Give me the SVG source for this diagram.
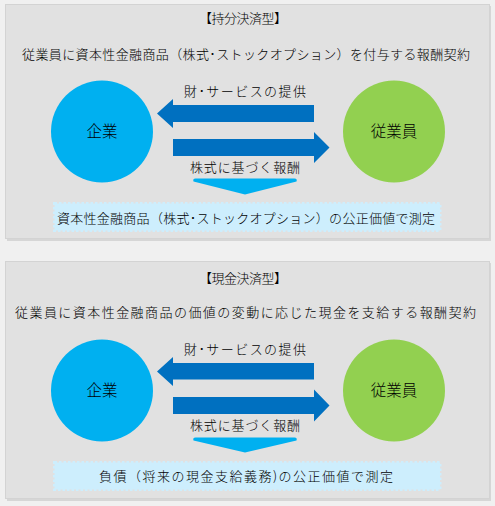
<svg xmlns="http://www.w3.org/2000/svg" width="495" height="506" viewBox="0 0 495 506">
<style>
text{font-family:"Noto Sans CJK JP","Noto Sans CJK SC",sans-serif;font-weight:300;fill:#000;text-anchor:middle}
.t{font-size:13px}
.n{font-size:15.5px}
.panel{fill:#e1e1e1;stroke:#d3d3d3;stroke-width:1}
.shadow{fill:#d6d6d6}
.c1{fill:#00b0f0}
.c2{fill:#92d050}
.arrow{fill:#0070c0}
.chev{fill:#00b0f0}
.box{fill:#cdeefd;stroke:#cdeefd;stroke-width:3;stroke-dasharray:2.5 2}
</style>
<rect x="0" y="0" width="495" height="506" fill="#f0f0f0"/>
<g id="panel1">
<rect class="shadow" x="7" y="6" width="484" height="235"/>
<rect class="panel" x="5.5" y="4.5" width="484" height="234"/>
<text class="t" x="243" y="23" textLength="88">【持分決済型】</text>
<text class="t" x="246" y="58.5" textLength="448">従業員に資本性金融商品（株式･ストックオプション）を付与する報酬契約</text>
</g>
<g id="panel2">
<rect class="shadow" x="7" y="263" width="484" height="238"/>
<rect class="panel" x="5.5" y="261.5" width="484" height="237"/>
<text class="t" x="243" y="283" textLength="88">【現金決済型】</text>
<text class="t" x="245.5" y="317" textLength="461">従業員に資本性金融商品の価値の変動に応じた現金を支給する報酬契約</text>
</g>
<g id="connectors">
<polygon class="arrow" points="157,113.5 173,99 173,105 314,105 314,122 173,122 173,128"/>
<polygon class="arrow" points="173,139 314,139 314,132 329.5,147.5 314,163 314,156 173,156"/>
<path class="chev" d="M195.5,178.5 L294.5,178.5 Q297.5,178.5 296.5,181.5 L245,194.5 L193.5,181.5 Q192.5,178.5 195.5,178.5 Z"/>
<polygon class="arrow" points="157,371.5 173,357 173,363 314,363 314,379.5 173,379.5 173,386"/>
<polygon class="arrow" points="173,397 314,397 314,389.5 329.5,405.5 314,421.5 314,414 173,414"/>
<path class="chev" d="M195.5,437.5 L294.5,437.5 Q297.5,437.5 296.5,440.5 L245,452.5 L193.5,440.5 Q192.5,437.5 195.5,437.5 Z"/>
<text class="t" x="245" y="95.5" textLength="122">財･サービスの提供</text>
<text class="t" x="245" y="171.5" textLength="110">株式に基づく報酬</text>
<text class="t" x="245" y="354" textLength="122">財･サービスの提供</text>
<text class="t" x="245" y="429.5" textLength="110">株式に基づく報酬</text>
</g>
<g id="company1">
<circle class="c1" cx="102" cy="131.5" r="51"/>
<text class="n" x="102" y="137">企業</text>
</g>
<g id="employee1">
<circle class="c2" cx="394" cy="131.5" r="51"/>
<text class="n" x="394" y="137">従業員</text>
</g>
<g id="measure1">
<rect class="box" x="54.5" y="203.5" width="385.5" height="27"/>
<text class="t" x="246" y="222.5" textLength="378">資本性金融商品（株式･ストックオプション）の公正価値で測定</text>
</g>
<g id="company2">
<circle class="c1" cx="102" cy="390.5" r="51"/>
<text class="n" x="102" y="396">企業</text>
</g>
<g id="employee2">
<circle class="c2" cx="394" cy="390.5" r="51"/>
<text class="n" x="394" y="396">従業員</text>
</g>
<g id="measure2">
<rect class="box" x="54.5" y="462.5" width="385.5" height="27"/>
<text class="t" x="246" y="480.5" textLength="294">負債（将来の現金支給義務)の公正価値で測定</text>
</g>
</svg>
